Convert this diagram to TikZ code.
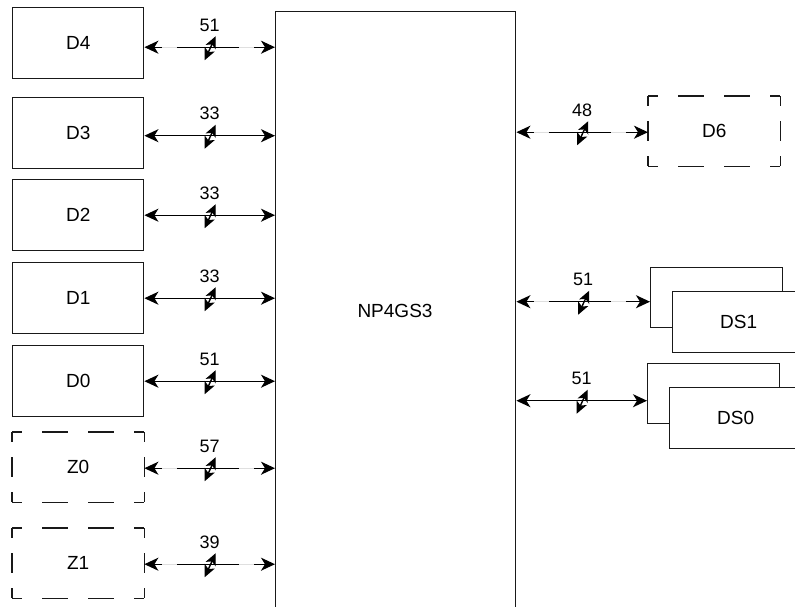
\documentclass[tikz,border=0pt]{standalone}
\usepackage{fontspec}
\setmainfont{Liberation Sans}
\usetikzlibrary{arrows.meta,calc}
\newcommand\dashedsides[1]{%
  \draw[hdash] (#1.north west) -- (#1.north east);
  \draw[hdash] (#1.south west) -- (#1.south east);
  \draw[vdash] (#1.north west) -- (#1.south west);
  \draw[vdash] (#1.north east) -- (#1.south east);}
\tikzset{
  bigtip/.tip={Stealth[length=14pt,width=13pt,inset=4pt]},
  smalltip/.tip={Stealth[length=12pt,width=11pt,inset=3pt]},
}
\begin{document}
\begin{tikzpicture}[x=1pt,y=-1pt,
  every node/.style={font=\fontsize{19}{22}\selectfont, text=black},
  numlab/.style={font=\fontsize{18}{21}\selectfont},
  ln/.style={draw=black!90, line width=1.4pt},
  box/.style={ln, rectangle, minimum width=131pt, minimum height=71pt, inner sep=0pt, anchor=north west},
  dbox/.style={rectangle, minimum width=132pt, minimum height=70pt, inner sep=0pt, anchor=north west},
  sbox/.style={ln, fill=white, rectangle, minimum width=132pt, inner sep=0pt, anchor=north west},
  hdash/.style={ln, dash pattern=on 10pt off 20pt on 26pt off 20pt on 26pt off 20pt on 10pt},
  vdash/.style={ln, dash pattern=on 10pt off 15pt on 20pt off 15pt on 10pt},
  conn/.style={ln, draw=black, fill=black, bigtip-bigtip},
  dconn/.style={conn, dash pattern=on 8pt off 15pt on 62pt off 15pt on 40pt},
  diag/.style={ln, draw=black, smalltip-smalltip},
]
\useasboundingbox (0,0) rectangle (795,606);
\clip (0,0) rectangle (795,606);
\fill[white] (0,0) rectangle (795,606);

% central block
\node[ln, rectangle, minimum width=240pt, minimum height=600pt, inner sep=0pt, anchor=north west] (np) at (275,11) {};
\node at (395,311) (nplabel) {NP4GS3};

% left boxes
\node[box] (d4) at (12,7) {D4};
\node[box] (d3) at (12,97) {D3};
\node[box] (d2) at (12,179) {D2};
\node[box] (d1) at (12,262) {D1};
\node[box] (d0) at (12,345) {D0};
\node[dbox] (z0) at (12,432) {Z0};
\node[dbox] (z1) at (12,528) {Z1};
\dashedsides{z0}
\dashedsides{z1}

% right boxes
\node[dbox] (d6) at (648,96) {D6};
\dashedsides{d6}
\node[sbox, minimum height=60pt] (ds1b) at (650,267) {};
\node[sbox, minimum height=61pt] (ds1) at (672,291) {DS1};
\node[sbox, minimum height=60pt] (ds0b) at (647,363) {};
\node[sbox, minimum height=61pt] (ds0) at (669,387) {DS0};

% left connectors
\draw[dconn] ([yshift=-4pt]d4.east) -- ([yshift=-4pt]d4.east -| np.west) coordinate[pos=.5] (m4);
\draw[conn] ([yshift=-2.5pt]d3.east) -- ([yshift=-2.5pt]d3.east -| np.west) coordinate[pos=.5] (m3);
\draw[conn] (d2.east) -- (d2.east -| np.west) coordinate[pos=.5] (m2);
\draw[conn] (d1.east) -- (d1.east -| np.west) coordinate[pos=.5] (m1);
\draw[conn] (d0.east) -- (d0.east -| np.west) coordinate[pos=.5] (m0);
\draw[dconn] ([yshift=-1pt]z0.east) -- ([yshift=-1pt]z0.east -| np.west) coordinate[pos=.5] (mz0);
\draw[dconn] ([yshift=-1pt]z1.east) -- ([yshift=-1pt]z1.east -| np.west) coordinate[pos=.5] (mz1);

% right connectors
\draw[dconn] ([yshift=-1pt]d6.west -| np.east) -- ([yshift=-1pt]d6.west) coordinate[pos=.5] (m6);
\draw[dconn] ([yshift=-4pt]ds1b.west -| np.east) -- ([yshift=-4pt]ds1b.west) coordinate[pos=.5] (ms1);
\draw[conn] ([yshift=-7pt]ds0b.west -| np.east) -- ([yshift=-7pt]ds0b.west) coordinate[pos=.5] (ms0);

% width markers
\foreach \m/\t in {m4/51, m3/33, m2/33, m1/33, m0/51, mz0/57, mz1/39, m6/48, ms1/51, ms0/51}{
  \draw[diag] ([shift={(-5,13)}]\m) -- ([shift={(6,-11)}]\m);
  \node[numlab] at ([yshift=22pt]\m) (lab\m) {\t};
}
\end{tikzpicture}
\end{document}
